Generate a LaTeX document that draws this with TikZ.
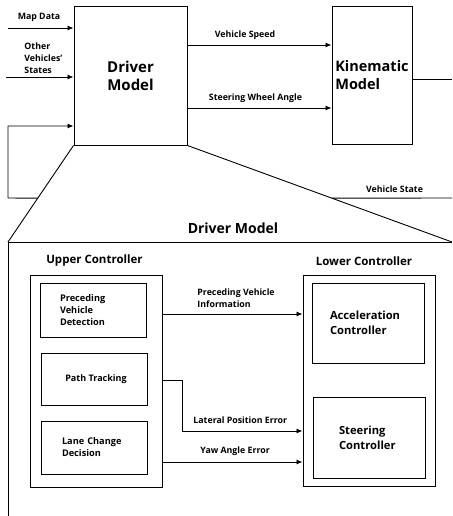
\documentclass[tikz,border=0pt]{standalone}
\usepackage{fontspec}
\setmainfont{Open Sans}
\usetikzlibrary{arrows.meta,calc,shadows}
\newcommand{\fs}[2]{\fontsize{#1}{#2}\selectfont\bfseries}
\begin{document}
\begin{tikzpicture}[x=1pt,y=-1pt,
  line width=0.9pt,
  box/.style={draw, line width=1pt, fill=white, inner sep=0pt},
  sbox/.style={box, drop shadow={shadow xshift=1.2pt, shadow yshift=-1.2pt, opacity=0.35, fill=black!60}},
  arr/.style={-{Latex[length=6pt,width=5pt]}},
  lbl/.style={font=\fs{8.8}{12}, inner sep=0pt},
  lbll/.style={lbl, anchor=west, align=left},
]
\useasboundingbox (0,0) rectangle (452,516);

% top level
\node[box, minimum width=113pt, minimum height=138pt, align=center, font=\fs{15}{18}] (driver) at (130.5,76) {Driver\\Model};
\node[box, minimum width=80pt, minimum height=137pt, align=left, font=\fs{14.5}{18}] (kin) at (372,75.5) {Kinematic\\Model};

\coordinate (mapin) at (8,28);
\coordinate (othin) at (6,77);
\draw[arr] (mapin) -- (driver.west |- mapin);
\draw[arr] (othin) -- (driver.west |- othin);
\node[lbl] (maplbl) at (39,17) {Map Data};
\node[lbll] (othlbl) at (24,58) {Other\\Vehicles'\\States};

\coordinate (vsY) at (0,45);
\coordinate (swY) at (0,108);
\draw[arr] (driver.east |- vsY) -- (kin.west |- vsY);
\draw[arr] (driver.east |- swY) -- (kin.west |- swY);
\node[lbl] (vslbl) at (245,35) {Vehicle Speed};
\node[lbl] (swlbl) at (255.5,98) {Steering Wheel Angle};

\coordinate (kout) at (452,79);
\draw (kin.east |- kout) -- (kout);

% funnel
\coordinate (funL) at (8,242);
\coordinate (funR) at (452,242);
\coordinate (funB) at (8,516);
\draw (driver.south west) -- (funL);
\draw (driver.south east) -- (funR);
\draw (funB) -- (funL) -- (funR);

% feedback
\coordinate (fbL) at ($(driver.south west)!0.546!(funL)$);
\coordinate (fbR) at ($(driver.south east)!0.546!(funR)$);
\coordinate (fbEnd) at (452,198);
\coordinate (fbIn) at (8,126);
\draw (fbEnd) -- (fbR);
\draw[arr] (fbL) -- (8,198) -- (fbIn) -- (driver.west |- fbIn);
\node[lbl] (vstlbl) at (394.5,189) {Vehicle State};

% zoomed driver model
\node[inner sep=0pt, font=\fs{14}{16}] (title) at (233,228) {Driver Model};
\node[inner sep=0pt, font=\fs{11.5}{14}] (uclbl) at (94.5,261) {Upper Controller};
\node[inner sep=0pt, font=\fs{11.5}{14}] (lclbl) at (364,261) {Lower Controller};

\node[sbox, minimum width=132pt, minimum height=212pt] (uc) at (96,381) {};
\node[sbox, minimum width=132pt, minimum height=211pt] (lc) at (369,380.5) {};

\node[sbox, minimum height=54pt, text width=66pt, inner xsep=20pt, align=left, font=\fs{9.2}{12}] (pvd) at (93,310) {Preceding\\Vehicle\\Detection};
\node[sbox, minimum width=106pt, minimum height=52pt, align=center, font=\fs{9}{12}] (pt) at (94,379) {\hspace*{4pt}Path Tracking};
\node[sbox, minimum height=53pt, text width=64pt, inner xsep=21pt, align=left, font=\fs{9.2}{12}] (lcd) at (94,447.5) {Lane Change\\Decision};

\node[sbox, minimum height=80pt, text width=76pt, inner xsep=18pt, align=left, font=\fs{11.2}{15}] (acc) at (368,323) {Acceleration\\Controller};
\node[sbox, minimum height=81pt, text width=60pt, inner xsep=26pt, align=left, font=\fs{11.2}{15}] (steer) at (369,437.5) {Steering\\Controller};

% inner connectors
\coordinate (pviY) at (0,314);
\coordinate (ptY) at (0,380);
\coordinate (lpeY) at (0,431);
\coordinate (yawY) at (0,462);
\coordinate (bendX) at (182,0);
\draw[arr] (uc.east |- pviY) -- (lc.west |- pviY);
\draw[arr] (uc.east |- ptY) -- (bendX |- ptY) -- (bendX |- lpeY) -- (lc.west |- lpeY);
\draw[arr] (uc.east |- yawY) -- (lc.west |- yawY);

\node[lbll] (pvilbl) at (197,298) {Preceding Vehicle\\Information};
\node[lbll] (lpelbl) at (193,420) {Lateral Position Error};
\node[lbll] (yawlbl) at (200,451) {Yaw Angle Error};
\end{tikzpicture}
\end{document}
